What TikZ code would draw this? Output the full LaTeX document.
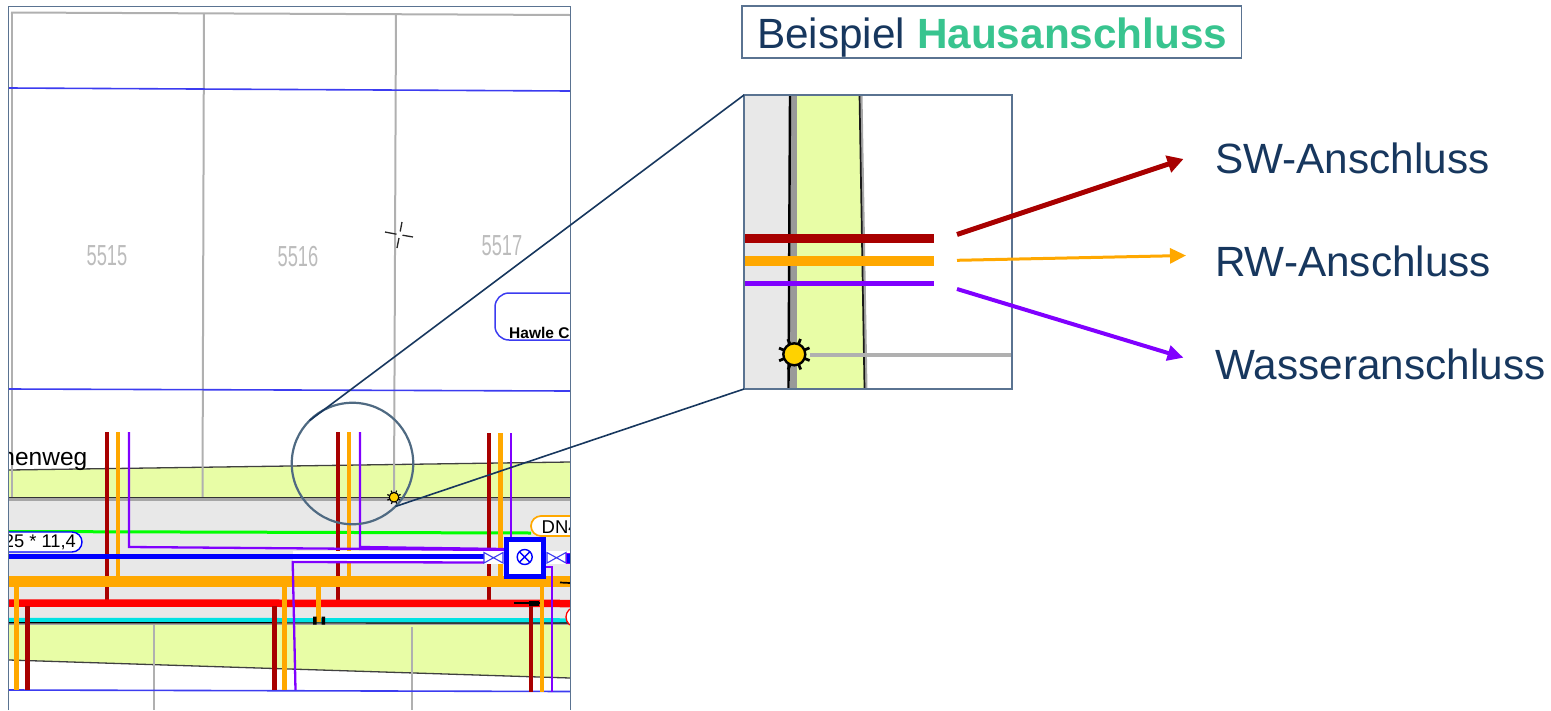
\documentclass[tikz,border=0pt]{standalone}
\usepackage{fontspec}
\setmainfont{Liberation Sans}
\usetikzlibrary{arrows.meta}
\definecolor{navy}{HTML}{17375E}
\definecolor{frame}{HTML}{5A7391}
\definecolor{lens}{HTML}{4F6A82}
\definecolor{mint}{HTML}{38C48F}
\definecolor{dkred}{HTML}{A80000}
\definecolor{orng}{HTML}{FFA800}
\definecolor{purp}{HTML}{8000FF}
\definecolor{road}{HTML}{E8E8E8}
\definecolor{verge}{HTML}{E8FDA6}
\definecolor{cada}{HTML}{B0B0B0}
\definecolor{plan}{HTML}{3C3CF0}
\definecolor{cyn}{HTML}{00E2E2}
\definecolor{sun}{HTML}{FFD200}
\newcommand{\fs}[1]{\fontsize{#1}{#1}\selectfont}
\newcommand{\hsun}[3]{%
  \foreach \a in {22,67,...,337} {\draw[black,line width=#3*0.25pt] (#1,#2) ++(\a:#3*1.0) -- ++(\a:#3*0.5);}
  \fill[sun,draw=black,line width=#3*0.22pt] (#1,#2) circle[radius=#3];}
\tikzset{
  x=1pt,y=-1pt,
  sw/.style={dkred,line width=4.6pt},
  rw/.style={orng,line width=4.6pt},
  wa/.style={purp,line width=2.3pt},
  cadastre/.style={cada,line width=2pt},
  planline/.style={plan,line width=1.6pt},
  edge/.style={black!75,line width=1.3pt},
  bowtie/.style={plan,line width=1.1pt},
  plabel/.style={inner sep=0,anchor=base west,text=navy,font=\fs{42.3}},
  parcel/.style={inner sep=0,text=cada!85},
  callout/.style={navy,line width=1.6pt},
}
\begin{document}
\begin{tikzpicture}
\useasboundingbox (0,0) rectangle (1551,710);
% ---------- map ----------
\begin{scope}
\clip (9,7) rectangle (570,710);
\fill[road] (9,498) rectangle (570,622);
\fill[verge] (9,470) -- (570,462) -- (570,498) -- (9,498) -- cycle;
\fill[verge] (9,623) -- (570,623) -- (570,678) -- (9,660) -- cycle;
\draw[edge] (9,470) -- (570,462);
\draw[edge] (9,660) -- (570,678);
% cadastre
\draw[cadastre] (11,12.5) -- (570,15);
\draw[cadastre] (11.5,12.5) -- (11.5,497);
\draw[cadastre] (204,13) -- (202.5,497);
\draw[cadastre] (396,14) -- (394,495);
\draw[cadastre] (153.5,625) -- (153.5,710);
\draw[cadastre] (412,627) -- (412,710);
% plan lines
\draw[planline] (9,88) -- (570,91);
\draw[planline] (9,389) -- (570,391);
\draw[planline] (9,690) -- (570,691.5);
% road edges
\draw[black!35,line width=3.5pt] (9,499) -- (570,499);
\draw[black!80,line width=1.5pt] (9,497.7) -- (570,497.7);
\draw[black!35,line width=2.5pt] (9,624) -- (570,624);
\draw[green,line width=3pt] (9,531.5) -- (531,533);
% parcels
\node[parcel] (p5515) at (107,256) {\fs{29}\scalebox{0.63}[1]{5515}};
\node[parcel] (p5516) at (298,256.5) {\fs{29}\scalebox{0.63}[1]{5516}};
\node[parcel] (p5517) at (502,246) {\fs{29}\scalebox{0.63}[1]{5517}};
% cross
\draw[black!85,line width=1.3pt] (385,232) -- (396.5,234.2) (402.5,235.2) -- (413,237);
\draw[black!85,line width=1.3pt] (402,222) -- (400.2,231.5) (399,238) -- (397,248);
% Hawle box
\draw[plan,line width=1.5pt,rounded corners=14pt] (600,293) -- (495,293) -- (495,340) -- (600,340);
\node[inner sep=0,anchor=base west,font=\fs{15.5}\bfseries,text=black] (hawle) at (509,338.5) {Hawle C};
% street name
\node[inner sep=0,anchor=base east,font=\fs{24.5},text=black] (street) at (87.5,465) {henweg};
% upper service lines
\draw[sw] (107,432) -- (107,602);
\draw[rw] (118,432) -- (118,578);
\draw[sw] (338,432) -- (338,602);
\draw[rw] (349,432) -- (349,578);
\draw[sw] (489,433) -- (489,602);
\draw[rw] (500.5,433) -- (500.5,578);
% blue main
\fill[white] (293,551) rectangle (484,562);
\draw[blue,line width=5pt] (9,556.5) -- (484,556.5);
% orange, red, cyan mains
\draw[cyn,line width=4.5pt] (9,620) -- (570,620.5);
\draw[black,line width=1.2pt] (9,622.7) -- (570,623);
\draw[orng,line width=11pt] (9,581) -- (570,581);
\draw[red,line width=7.5pt] (9,603) -- (570,603.5);
% lower service lines
\draw[rw] (16.7,586) -- (16.7,690);
\draw[sw] (27.3,606) -- (27.3,690);
\draw[sw] (274.3,606) -- (274.3,690);
\draw[rw] (284.7,586) -- (284.7,690);
\draw[rw] (318.7,586) -- (318.7,622);
\fill[black] (313,616.5) rectangle (316.5,624.5) (321.5,616.5) rectangle (325,624.5);
\draw[sw] (531,604) -- (531,692);
\draw[rw] (542,586) -- (542,692);
% purple lines
\draw[wa] (129,432) -- (129,547) -- (504,550);
\draw[wa] (360,432) -- (360,547) -- (504,549);
\draw[wa] (511,433) -- (511,538);
\draw[wa] (295.5,690) -- (292.7,562) -- (484,562.5);
\draw[wa] (552,692) -- (552,567) -- (546,567);
% black dashes
\draw[black,line width=1.7pt] (514,603.3) -- (540,603.3);
\fill[black] (529,601) rectangle (539,606);
\draw[black,line width=1.7pt] (560,582.5) -- (570,583);
% pills
\draw[blue,line width=1.4pt,fill=white,rounded corners=10pt] (-20,532) -- (82,532) -- (82,552) -- (-20,552) -- cycle;
\node[inner sep=0,anchor=base east,font=\fs{18.3},text=black] (dim) at (76,547.7) {25 * 11,4};
\draw[orng,line width=1.7pt,fill=white,rounded corners=10pt] (600,516) -- (531,516) -- (531,536) -- (600,536);
\node[inner sep=0,anchor=base west,font=\fs{18.5},text=black] (dn) at (541.5,533.5) {DN4};
% valve
\fill[white] (484,551) rectangle (504,563.5);
\fill[white] (546,551) rectangle (570,563.5);
\draw[bowtie] (484,552.5) -- (503,563) -- (503,552.5) -- (484,563) -- cycle;
\draw[bowtie] (547,552.5) -- (566,563) -- (566,552.5) -- (547,563) -- cycle;
\draw[purp,fill=blue,line width=1pt] (566.5,553) rectangle (575,563);
\draw[blue,fill=white,line width=4.8pt] (506.3,539.3) rectangle (543.7,576.7);
\draw[blue,line width=1.4pt] (524.7,557) circle[radius=7.5];
\draw[blue,line width=1.4pt] (519.4,551.7) -- (530,562.3) (519.4,562.3) -- (530,551.7);
% red circle
\draw[red,line width=1.3pt,fill=white] (576,617) circle[radius=10];
\hsun{394}{497.3}{4.8}
\end{scope}
% map frame
\draw[frame,line width=1.8pt] (8.5,710) -- (8.5,6.5) -- (570.5,6.5) -- (570.5,710);
% ---------- inset ----------
\fill[road] (744,95) rectangle (790,389);
\fill[verge] (795,95) -- (860,95) -- (865,389) -- (795,389) -- cycle;
\fill[black!40] (790,95) rectangle (796.5,389);
\draw[black,line width=2.4pt] (790,95) -- (788.5,389);
\draw[black!35,line width=3pt] (861,95) -- (866,389);
\draw[black!90,line width=1.7pt] (859.5,95) -- (864.5,389);
\draw[cada,line width=3.2pt] (810,355) -- (1012,355);
\fill[dkred] (744,233.8) rectangle (934,243);
\fill[orng] (744,256) rectangle (934,265.5);
\fill[purp] (744,281.2) rectangle (934,286.2);
\hsun{794.3}{354.3}{11}
\node[draw=frame,line width=1.7pt,inner sep=0,outer sep=0,minimum width=268pt,minimum height=294pt] (inset) at (878,242) {};
% lens + callouts
\node[circle,draw=lens,line width=2.2pt,inner sep=0,outer sep=0,minimum size=121.5pt] (lens) at (352.5,463.5) {};
\draw[callout] (lens.135) -- (inset.north west);
\draw[callout] (lens.-45) -- (inset.south west);
% title
\node[draw=frame,line width=1.7pt,inner sep=0,outer sep=0,minimum width=499.5pt,minimum height=52pt] (titlebox) at (991.8,32) {};
\node[plabel] (title) at (757,48.3) {Beispiel \textcolor{mint}{\bfseries Hausanschluss}};
% labels and arrows
\node[plabel] (lsw) at (1215,173.5) {SW-Anschluss};
\node[plabel] (lrw) at (1215,276.5) {RW-Anschluss};
\node[plabel] (lwa) at (1215.3,379) {Wasseranschluss};
\coordinate (s1) at (957,234.5);
\coordinate (t1) at (1183.5,159);
\coordinate (s2) at (957,260.3);
\coordinate (t2) at (1186,255.5);
\coordinate (s3) at (957,289);
\coordinate (t3) at (1183.5,357.7);
\draw[dkred,line width=5pt,-{Triangle[length=16pt,width=17pt]}] (s1) -- (t1);
\draw[orng,line width=3pt,-{Triangle[length=16pt,width=15pt]}] (s2) -- (t2);
\draw[purp,line width=4pt,-{Triangle[length=16pt,width=15pt]}] (s3) -- (t3);
\end{tikzpicture}
\end{document}
